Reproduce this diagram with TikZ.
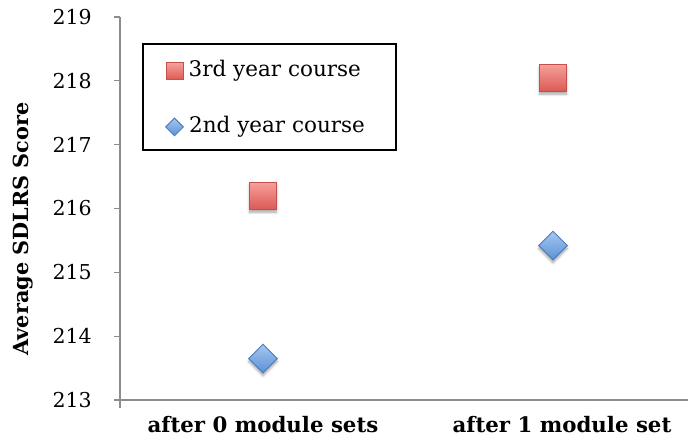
\documentclass[tikz,border=0pt]{standalone}
\usepackage{fontspec}
\setmainfont{DejaVu Serif}
\usetikzlibrary{shapes.geometric, positioning, shadows.blur}
\definecolor{rred1}{HTML}{F7A09B}
\definecolor{rred2}{HTML}{DC5A54}
\definecolor{rred3}{HTML}{C4504B}
\definecolor{rblue1}{HTML}{A6C6EF}
\definecolor{rblue2}{HTML}{5C92D7}
\definecolor{rblue3}{HTML}{4D7DBE}
\definecolor{axgray}{HTML}{8C8C8C}

\begin{document}
\begin{tikzpicture}[x=1pt, y=1pt,
    sqmark/.style={rectangle, draw=rred3, line width=1pt, top color=rred1, bottom color=rred2, inner sep=0pt},
    dmmark/.style={diamond, draw=rblue3, line width=1pt, top color=rblue1, bottom color=rblue2, inner sep=0pt, aspect=1},
    softshadow/.style={blur shadow={shadow xshift=0pt, shadow yshift=-3pt, shadow blur radius=2.5pt, shadow blur steps=6, shadow opacity=35}},
    ticklbl/.style={anchor=east, inner sep=0pt, font=\fontsize{20.5}{20.5}\selectfont},
    catlbl/.style={inner sep=0pt, font=\bfseries\fontsize{21.3}{21.3}\selectfont},
    leglbl/.style={inner sep=0pt, anchor=west, font=\fontsize{21.5}{21.5}\selectfont}]

        \useasboundingbox (0,0) rectangle (688,439);

        \draw[axgray, line width=1.3pt] (120,422) -- (120,31);
        \draw[axgray, line width=1.3pt] (120,39) -- (688,39);
        \foreach \s [count=\i from 0] in {213,...,219} {
            \draw[axgray, line width=1.3pt] (114,{39+\i*63.83}) -- (120,{39+\i*63.83});
            \node[ticklbl] (t\s) at (92,{39+\i*63.83}) {\s};
        }

        \node[catlbl] (cat0) at (263,14) {after 0 module sets};
        \node[catlbl] (cat1) at (562,14) {after 1 module set};
        \node[catlbl, rotate=90, font=\bfseries\fontsize{20.8}{20.8}\selectfont] (ylab) at (23,210) {Average SDLRS Score};

        \node[sqmark, softshadow, minimum size=27pt] (sq0) at (263,{39+3.20*63.83}) {};
        \node[sqmark, softshadow, minimum size=27pt] (sq1) at (553,{39+5.05*63.83}) {};
        \node[dmmark, softshadow, minimum size=29pt] (dm0) at (263,{39+0.65*63.83}) {};
        \node[dmmark, softshadow, minimum size=29pt] (dm1) at (553,{39+2.42*63.83}) {};

        \draw[black, line width=1.2pt] (143,395) rectangle (396,289);
        \node[sqmark, minimum size=17pt] (lsq) at (174.5,368) {};
        \node[dmmark, minimum size=18pt] (ldm) at (174.5,312) {};
        \node[leglbl, right=5pt of lsq] (lab3) {3rd year course};
        \node[leglbl, right=5pt of ldm] (lab2) {2nd year course};

\end{tikzpicture}
\end{document}
